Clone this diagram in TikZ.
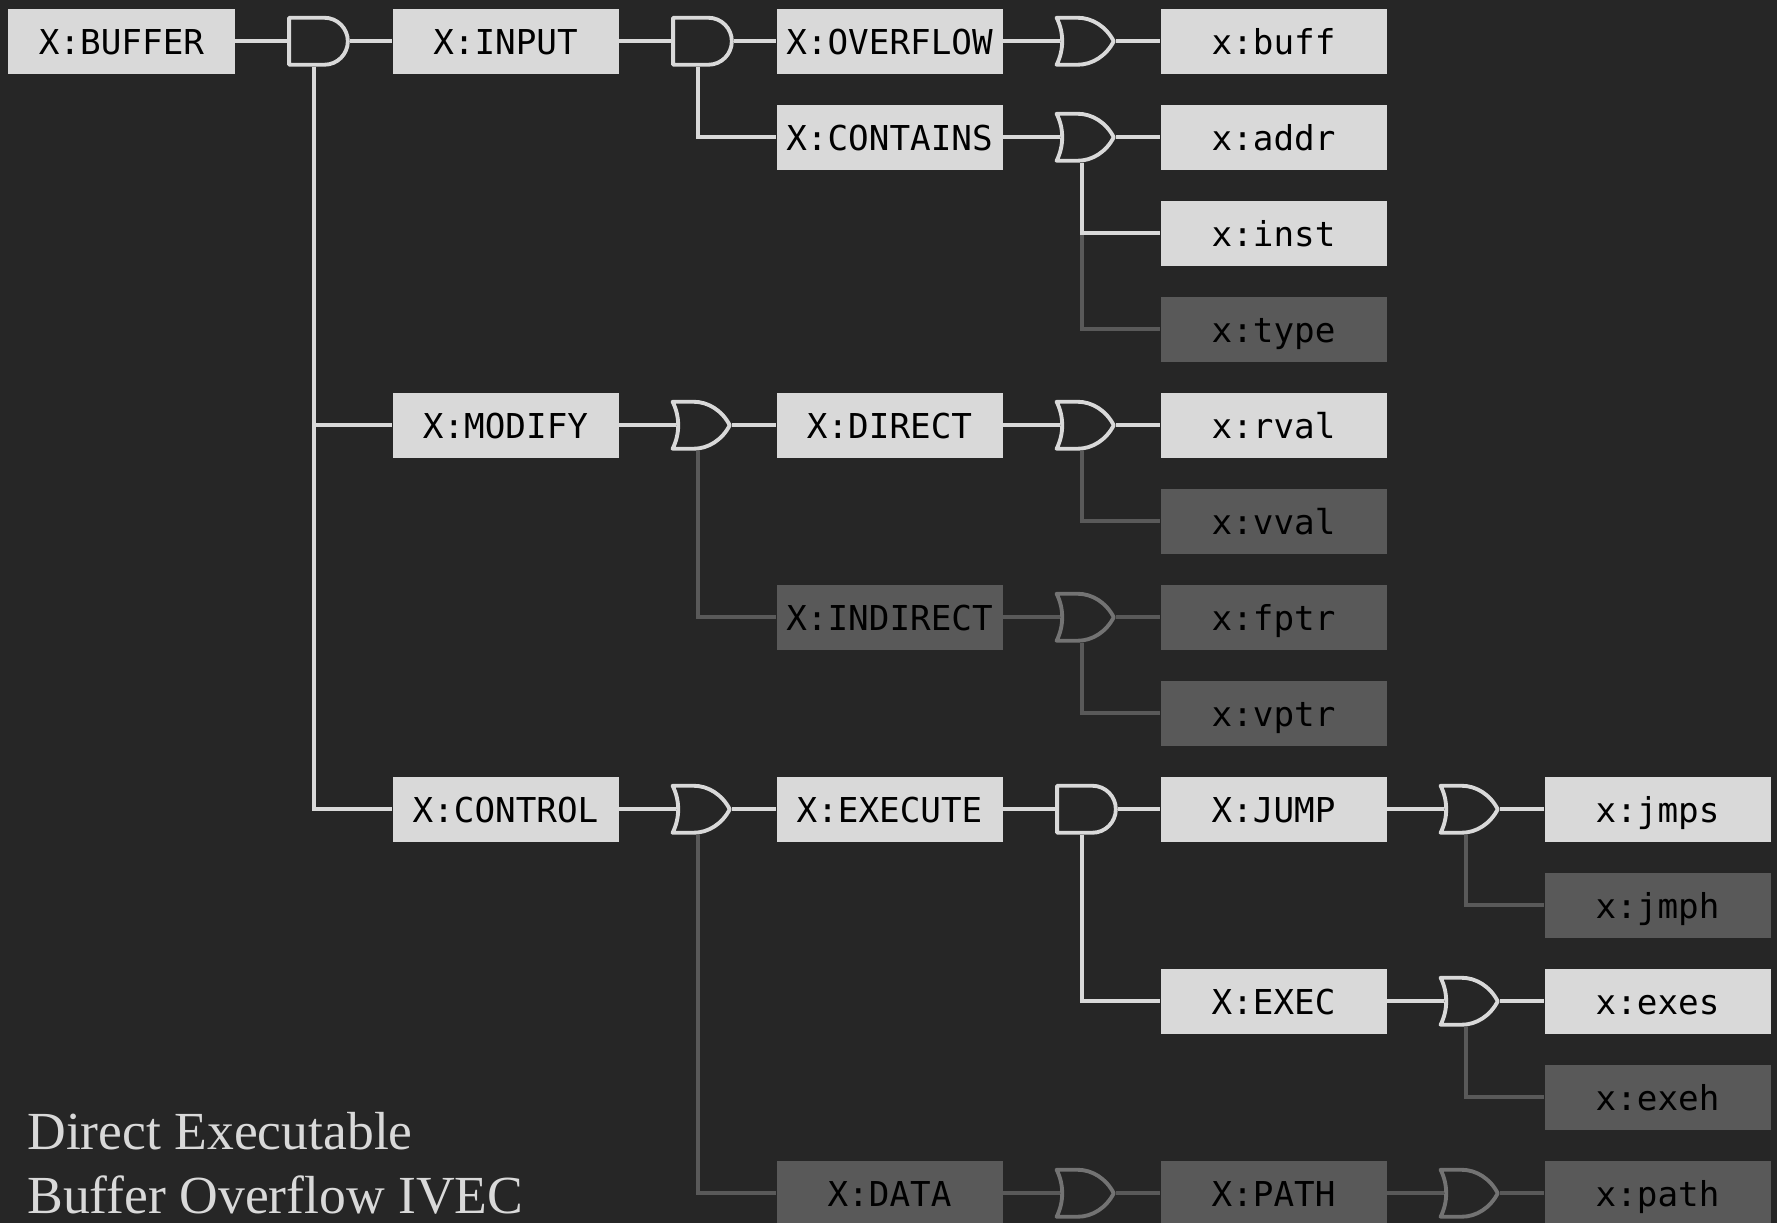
\documentclass[tikz,border=0pt]{standalone}
\usepackage{fontspec}
\setmainfont{Liberation Serif}
\setmonofont{DejaVu Sans Mono}
\usepackage{xcolor}
\usetikzlibrary{positioning, shapes.gates.logic.US}
\definecolor{slate}{HTML}{262626}
\definecolor{lit}{HTML}{D9D9D9}
\definecolor{dim}{HTML}{595959}
\definecolor{dimgate}{HTML}{737373}

\begin{document}
\begin{tikzpicture}[node distance=1.92cm,
    ivec/.style={fill=lit, text=black, inner sep=0pt, minimum width=4.52cm, text height=.92cm, text depth=.38cm, font=\ttfamily\fontsize{19.5}{20}\selectfont},
    off/.style={ivec, fill=dim},
    andg/.style={and gate US, draw=lit, fill=slate, line width=2.2pt, line join=round, minimum width=1.17cm, minimum height=.94cm, logic gate inputs=nn, inner sep=0pt},
    org/.style={or gate US, draw=lit, fill=slate, line width=2.2pt, line join=round, xscale=.89, transform shape, minimum width=1.2cm, minimum height=.94cm, logic gate inputs=nn, inner sep=0pt},
    offg/.style={draw=dimgate},
    andright/.style={right of=#1, node distance=3.9cm},
    orright/.style={right of=#1, node distance=4.303cm},
    wire/.style={draw=lit, line width=2.1pt},
    offwire/.style={draw=dim, line width=2.1pt},
    elbow/.style={to path={([xshift=#1]\tikztostart.south) |- (\tikztotarget.west)}},
    elbow/.default=.02cm]
      \useasboundingbox[fill=slate] (-2.43,.825) rectangle (33.11,-23.635);

      \node[ivec] (xbuffer) {X:BUFFER};
      \node[andg] (g1) [andright=xbuffer] {};
      \node[ivec] (xinput) [right of=xbuffer, node distance=7.68cm] {X:INPUT};
      \node[andg] (g2) [andright=xinput] {};
      \node[ivec] (xoverflow) [right of=xinput, node distance=7.68cm] {X:OVERFLOW};
      \node[org] (g3) [orright=xoverflow] {};
      \node[ivec] (xbuff) [right of=xoverflow, node distance=7.68cm] {x:buff};

      \node[ivec] (xcontains) [below of=xoverflow] {X:CONTAINS};
      \node[org] (g4) [orright=xcontains] {};
      \node[ivec] (xaddr) [below of=xbuff] {x:addr};
      \node[ivec] (xinst) [below of=xaddr] {x:inst};
      \node[off] (xtype) [below of=xinst] {x:type};

      \node[ivec] (xmodify) [below of=xinput, node distance=7.68cm] {X:MODIFY};
      \node[org] (g5) [orright=xmodify] {};
      \node[ivec] (xdirect) [right of=xmodify, node distance=7.68cm] {X:DIRECT};
      \node[org] (g6) [orright=xdirect] {};
      \node[ivec] (xrval) [right of=xdirect, node distance=7.68cm] {x:rval};
      \node[off] (xvval) [below of=xrval] {x:vval};

      \node[off] (xindirect) [below of=xdirect, node distance=3.84cm] {X:INDIRECT};
      \node[org, offg] (g7) [orright=xindirect] {};
      \node[off] (xfptr) [right of=xindirect, node distance=7.68cm] {x:fptr};
      \node[off] (xvptr) [below of=xfptr] {x:vptr};

      \node[ivec] (xcontrol) [below of=xmodify, node distance=7.68cm] {X:CONTROL};
      \node[org] (g8) [orright=xcontrol] {};
      \node[ivec] (xexecute) [right of=xcontrol, node distance=7.68cm] {X:EXECUTE};
      \node[andg] (g9) [andright=xexecute] {};
      \node[ivec] (xjump) [right of=xexecute, node distance=7.68cm] {X:JUMP};
      \node[org] (g10) [orright=xjump] {};
      \node[ivec] (xjmps) [right of=xjump, node distance=7.68cm] {x:jmps};
      \node[off] (xjmph) [below of=xjmps] {x:jmph};

      \node[ivec] (xexec) [below of=xjump, node distance=3.84cm] {X:EXEC};
      \node[org] (g11) [orright=xexec] {};
      \node[ivec] (xexes) [right of=xexec, node distance=7.68cm] {x:exes};
      \node[off] (xexeh) [below of=xexes] {x:exeh};

      \node[off] (xdata) [below of=xexecute, node distance=7.68cm] {X:DATA};
      \node[org, offg] (g12) [orright=xdata] {};
      \node[off] (xpath) [right of=xdata, node distance=7.68cm] {X:PATH};
      \node[org, offg] (g13) [orright=xpath] {};
      \node[off] (xpathleaf) [right of=xpath, node distance=7.68cm] {x:path};

      \path[offwire] (g4) edge[elbow] (xtype)
            (g5) edge[elbow] (xindirect)
            (g6) edge[elbow] (xvval)
            (g8) edge[elbow] (xdata)
            (g10) edge[elbow] (xjmph)
            (g11) edge[elbow] (xexeh)
            (g7) edge[elbow] (xvptr)
            (xindirect) edge (g7.west)
            (g7.output) edge (xfptr)
            (xdata) edge (g12.west)
            (g12.output) edge (xpath)
            (xpath) edge (g13.west)
            (g13.output) edge (xpathleaf)
            ;
      \path[wire] (xbuffer) edge (g1.west)
            (g1.output) edge (xinput)
            (xinput) edge (g2.west)
            (g2.output) edge (xoverflow)
            (xoverflow) edge (g3.west)
            (g3.output) edge (xbuff)
            (xcontains) edge (g4.west)
            (g4.output) edge (xaddr)
            (xmodify) edge (g5.west)
            (g5.output) edge (xdirect)
            (xdirect) edge (g6.west)
            (g6.output) edge (xrval)
            (xcontrol) edge (g8.west)
            (g8.output) edge (xexecute)
            (xexecute) edge (g9.west)
            (g9.output) edge (xjump)
            (xjump) edge (g10.west)
            (g10.output) edge (xjmps)
            (xexec) edge (g11.west)
            (g11.output) edge (xexes)
            (g1) edge[elbow=-.05cm] (xmodify)
            (g1) edge[elbow=-.05cm] (xcontrol)
            (g2) edge[elbow=-.05cm] (xcontains)
            (g4) edge[elbow] (xinst)
            (g9) edge[elbow=-.05cm] (xexec)
            ;

      \node[text=lit, align=left, anchor=base west, inner sep=0pt, font=\fontsize{30.5}{36.4}\selectfont] (title) at (-1.89,-23.435) {Direct Executable\\Buffer Overflow IVEC};
    \end{tikzpicture}
\end{document}
